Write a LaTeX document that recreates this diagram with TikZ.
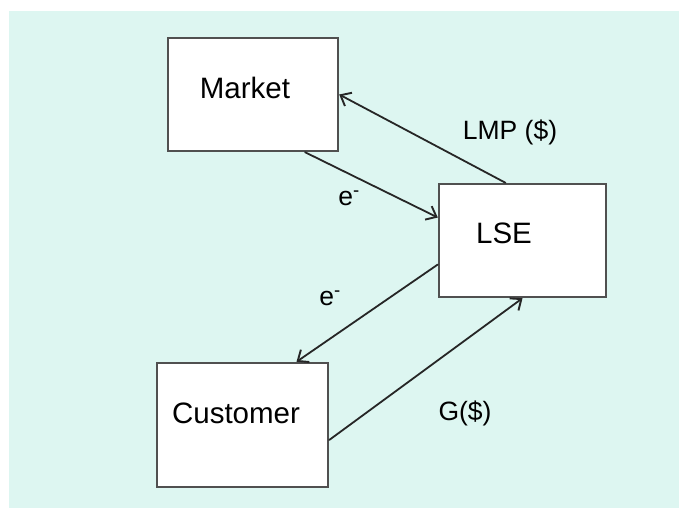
\documentclass[tikz,border=0pt]{standalone}
\usepackage{fontspec}
\setmainfont{Liberation Sans}
\usepackage{xcolor}
\usepackage{tikz}
\usetikzlibrary{arrows.meta}

\definecolor{bgcyan}{RGB}{221,246,241}
\definecolor{boxline}{RGB}{80,80,80}

\tikzset{
    box/.style={draw=boxline, line width=2.4pt, fill=white, inner sep=0pt},
    boxtext/.style={font=\fontsize{29.5}{34}\selectfont, inner sep=0pt},
    flowtext/.style={font=\fontsize{26.5}{30}\selectfont, inner sep=0pt},
    flow/.style={draw=black!85, line width=1.8pt, line cap=round,
        -{Straight Barb[length=9pt, width=15pt, line width=1.9pt]}},
}

\begin{document}
\begin{tikzpicture}[x=1pt, y=-1pt]
        \useasboundingbox (0, 0) rectangle (679, 508);
        \fill[bgcyan] (9, 11) rectangle (679, 508);

        % the three parties
        \node[box, minimum width=170pt, minimum height=113pt] (market) at (253, 94.5) {};
        \node[box, minimum width=167pt, minimum height=113pt] (lse) at (522.5, 240.5) {};
        \node[box, minimum width=171pt, minimum height=124pt] (customer) at (242.5, 425) {};

        \node[boxtext] (marketname) at (245, 88) {Market};
        \node[boxtext] (lsename) at (504, 233) {LSE};
        \node[boxtext] (customername) at (236, 413) {Customer};

        % energy and money
        \draw[flow] ([xshift=-17pt]lse.north) -- (market.east);
        \draw[flow] ([xshift=52pt]market.south) -- ([yshift=23pt]lse.west);
        \draw[flow] ([yshift=-24pt]lse.west) -- ([xshift=54pt]customer.north);
        \draw[flow] ([yshift=-15pt]customer.east) -- (lse.south);

        \node[flowtext] (lmp) at (510, 132) {LMP (\$)};
        \node[flowtext] (eupper) at (349, 198) {e\textsuperscript{-}};
        \node[flowtext] (elower) at (330, 298) {e\textsuperscript{-}};
        \node[flowtext] (gpay) at (465, 413) {G(\$)};

    \end{tikzpicture}
\end{document}
